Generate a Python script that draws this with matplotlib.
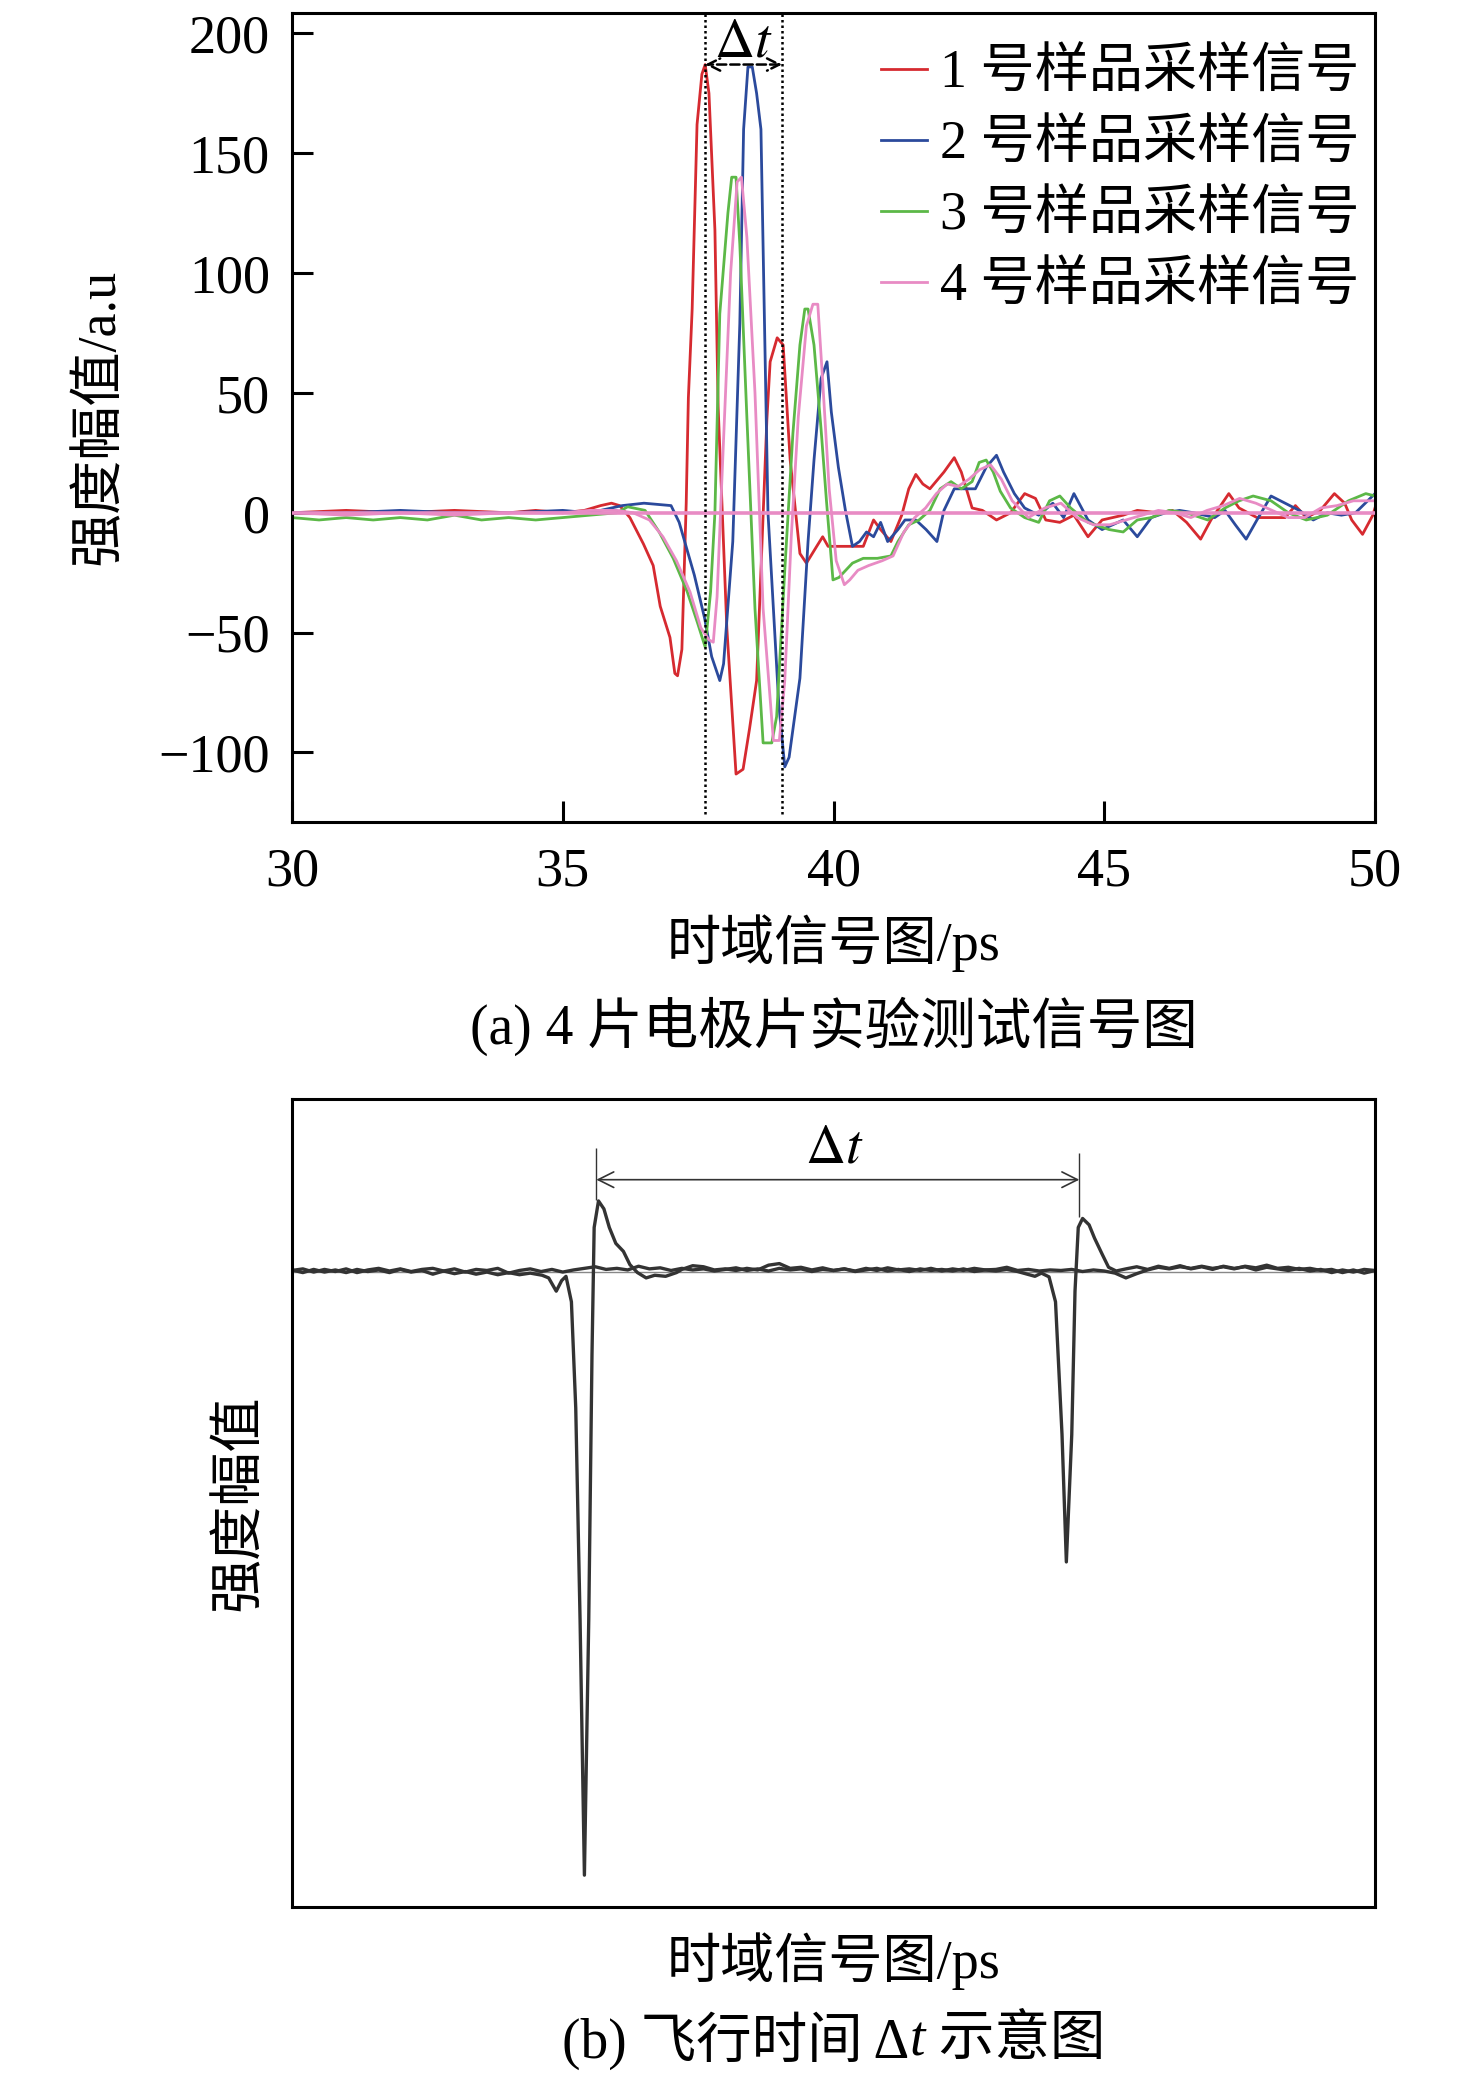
import matplotlib
matplotlib.use("Agg")
import matplotlib.pyplot as plt
import numpy as np

plt.rcParams.update({
    "font.family": ["Liberation Serif", "Noto Sans CJK SC"],
    "mathtext.fontset": "stix",
    "font.size": 39,
    "axes.linewidth": 2.2,
})

# ---- panel (a): four sample signals (time in ps, amplitude in a.u.) ----
red_t = [30, 31, 32, 33, 34, 34.5, 35, 35.4, 35.7, 35.9,
         36.05, 36.24, 36.49, 36.67, 36.8, 36.98, 37.07, 37.12, 37.2, 37.28,
         37.32, 37.39, 37.48, 37.57, 37.63, 37.7, 37.81, 37.87, 38.03, 38.2,
         38.33, 38.45, 38.58, 38.77, 38.83, 38.96, 39.07, 39.2, 39.38, 39.5,
         39.69, 39.8, 39.9, 40.16, 40.55, 40.74, 40.87, 41.06, 41.26, 41.39,
         41.52, 41.65, 41.78, 42.04, 42.23, 42.36, 42.56, 42.75, 43.01, 43.27,
         43.53, 43.73, 43.92, 44.18, 44.44, 44.7, 44.96, 45.35, 45.61, 46.0,
         46.26, 46.52, 46.78, 46.97, 47.3, 47.49, 47.82, 48.08, 48.34, 48.53,
         48.73, 48.99, 49.25, 49.44, 49.57, 49.77, 49.96, 50]
red_v = [0, 1, 0, 1, 0, 1, 0, 1, 3, 4,
         3, -2, -13, -22, -39, -52, -67, -68, -57, 4,
         48, 85, 162, 183, 187, 175, 118, 44, -48, -109,
         -107, -90, -70, 39, 63, 73, 70, 22, -17, -21,
         -14, -10, -14, -14, -14, -3, -7, -12, -1, 10,
         16, 12, 10, 17, 23, 17, 2, 1, -3, 0,
         8, 6, -3, -4, -1, -10, -3, -1, 1, 0,
         1, -4, -11, -3, 8, 2, -2, -2, -2, 3,
         -2, 1, 8, 4, -3, -9, -1, 2]

blue_t = [30, 31, 32, 33, 34, 35, 35.5, 36.1, 36.5, 37.0,
          37.15, 37.43, 37.62, 37.75, 37.9, 37.97, 38.14, 38.27, 38.34, 38.42,
          38.5, 38.58, 38.66, 38.79, 38.99, 39.1, 39.18, 39.38, 39.53, 39.64,
          39.77, 39.88, 39.96, 40.09, 40.22, 40.35, 40.48, 40.61, 40.74, 40.87,
          41.0, 41.19, 41.32, 41.52, 41.71, 41.91, 42.04, 42.23, 42.43, 42.62,
          42.82, 43.01, 43.14, 43.34, 43.53, 43.79, 44.05, 44.25, 44.44, 44.7,
          44.96, 45.35, 45.61, 45.87, 46.13, 46.39, 46.65, 47.04, 47.23, 47.42,
          47.62, 47.82, 48.08, 48.34, 48.6, 48.86, 49.12, 49.38, 49.64, 50]
blue_v = [0, 0, 1, 0, 0, 1, 0, 3, 4, 3,
          -4, -26, -44, -60, -70, -63, -12, 79, 160, 186,
          186, 175, 160, 0, -80, -106, -102, -69, -12, 22,
          56, 63, 42, 19, 1, -14, -12, -8, -10, -4,
          -12, -7, -3, -3, -7, -12, 1, 10, 10, 10,
          19, 24, 17, 8, 2, -1, 4, -2, 8, -3,
          -7, -3, -10, -2, 0, 1, 0, -2, 1, -5,
          -11, -3, 7, 4, 1, -3, 0, -1, 0, 8]

green_t = [30, 30.5, 31, 31.5, 32, 32.5, 33, 33.5, 34, 34.5,
           35, 35.5, 36.0, 36.2, 36.52, 36.78, 37.04, 37.3, 37.49, 37.63,
           37.73, 37.81, 37.9, 38.05, 38.12, 38.2, 38.27, 38.4, 38.55, 38.7,
           38.86, 38.95, 39.1, 39.25, 39.38, 39.47, 39.53, 39.64, 39.77, 39.87,
           39.99, 40.1, 40.35, 40.55, 40.81, 41.06, 41.19, 41.39, 41.58, 41.78,
           41.97, 42.17, 42.36, 42.56, 42.69, 42.82, 42.95, 43.08, 43.27, 43.53,
           43.79, 43.99, 44.18, 44.38, 44.7, 45.09, 45.35, 45.61, 45.87, 46.2,
           46.52, 46.91, 47.23, 47.49, 47.75, 48.08, 48.4, 48.73, 49.12, 49.51,
           49.83, 50]
green_v = [-2, -3, -2, -3, -2, -3, -1, -3, -2, -3,
           -2, -1, 0, 2.5, 1, -8, -19, -33, -46, -56,
           -33, 0, 83, 125, 140, 140, 112, 40, -40, -96,
           -96, -85, -24, 33, 70, 85, 85, 70, 35, 5,
           -28, -27, -21, -19, -19, -18, -12, -5, -3, 1,
           10, 13, 10, 13, 21, 22, 17, 9, 2, -2,
           -4, 5, 7, 2, -4, -7, -8, -3, -2, 1,
           0, -3, 2, 5, 7, 5, 0, -3, -1, 5,
           8, 7]

pink_t = [30, 31, 32, 33, 34, 35, 35.5, 36.0, 36.3, 36.6,
          36.85, 37.1, 37.35, 37.55, 37.7, 37.78, 37.85, 37.95, 38.1, 38.22,
          38.3, 38.4, 38.55, 38.7, 38.89, 39.0, 39.1, 39.22, 39.35, 39.5,
          39.62, 39.71, 39.8, 39.92, 40.05, 40.2, 40.3, 40.45, 40.65, 40.9,
          41.1, 41.3, 41.5, 41.7, 41.9, 42.1, 42.3, 42.5, 42.7, 42.9,
          43.1, 43.3, 43.6, 43.9, 44.2, 44.5, 44.8, 45.1, 45.4, 45.7,
          46.0, 46.3, 46.6, 46.9, 47.2, 47.5, 47.8, 48.1, 48.4, 48.7,
          49.0, 49.3, 49.6, 50]
pink_v = [0, -1, 0, -1, 0, 0, 1, 1, 0, -3,
          -10, -20, -33, -48, -53, -54, -35, 20, 100, 138,
          140, 115, 50, -40, -95, -95, -70, -10, 40, 78,
          87, 87, 55, 10, -20, -30, -28, -24, -22, -20,
          -18, -8, -2, 2, 8, 12, 11, 14, 18, 20,
          14, 5, -2, 2, 4, -2, -5, -5, -3, -1,
          1, 0, -2, 1, 3, 6, 4, 1, -2, -2,
          2, 3, 5, 5]

labels_a = ["1 号样品采样信号", "2 号样品采样信号", "3 号样品采样信号", "4 号样品采样信号"]
colors_a = ["#d62a30", "#2b4a9c", "#5cb847", "#e88bc4"]
dt_marks = [37.63, 39.05]
x_ticks = [30, 35, 40, 45, 50]
y_ticks = [-100, -50, 0, 50, 100, 150, 200]

# ---- panel (b): schematic time-of-flight signal (arbitrary units) ----
left_grid_a = np.arange(0, 23, 1.0)
ripple_a_left = [0.3, -0.2, 0.4, -0.1, 0.3, -0.2, 0.4, 0.0, 0.3, -0.2,
                 0.4, -0.1, 0.2, -0.5, 0.1, -0.4, 0.0, -0.5, -0.1, -0.6,
                 -0.2, -0.6, -0.3]
pulse_a_t = [23.1, 23.7, 24.4, 24.9, 25.3, 25.8, 26.2, 26.6, 27.0, 27.4,
             27.7, 27.9, 28.3, 28.8, 29.3, 29.9, 30.6, 31.2, 31.9, 32.7,
             33.5, 34.5, 35.5]
pulse_a_v = [-0.7, -1.2, -3.7, -1.7, -0.9, -5.7, -25.7, -65.7, -113.7, -65.7,
             -15.7, 8.3, 13.3, 11.8, 8.3, 5.3, 3.8, 1.3, -0.2, -1.2,
             -0.7, -0.9, -0.2]
right_grid_a = np.arange(36, 101, 1.0)
ripple_a_right = [0.4, 1.1, 0.9, 0.3, 0.5, 0.2, 0.6, 0.3, 1.2, 1.5,
                  0.6, 0.8, 0.3, 0.7, 0.2, 0.5, 0.1, 0.6, 0.2, 0.7,
                  0.3, 0.5, 0.2, 0.6, 0.1, 0.5, 0.2, 0.6, 0.3, 0.4,
                  0.8, 0.2, 0.4, 0.1, 0.3, 0.2, 0.4, 0.0, 0.3, 0.1,
                  -0.3, -1.2, -0.4, 0.3, 0.8, 0.5, 0.9, 0.6, 1.0, 0.6,
                  0.9, 0.5, 1.0, 0.7, 1.2, 0.6, 0.8, 0.4, 0.6, 0.2,
                  0.4, -0.2, 0.3, -0.3, 0.2]

left_grid_b = np.arange(0, 68, 1.0)
ripple_b_left = [0.2, 0.5, -0.1, 0.4, 0.0, 0.5, -0.2, 0.3, 0.6, 0.1,
                 0.5, 0.0, 0.4, 0.6, 0.1, 0.5, -0.1, 0.4, 0.2, 0.6,
                 -0.3, 0.2, 0.5, 0.0, 0.4, -0.1, 0.3, 0.6, 0.9, 0.4,
                 0.6, 0.3, 1.0, 0.5, 0.7, 0.2, 0.6, 0.3, 0.5, 0.1,
                 0.4, 0.7, 0.2, 0.5, 0.1, 0.6, 0.3, 0.5, 0.0, 0.4,
                 0.2, 0.5, 0.0, 0.3, 0.6, 0.1, 0.4, 0.0, 0.5, 0.2,
                 0.4, 0.1, 0.5, 0.0, 0.3, 0.1, 0.4, 0.0]
pulse_b_t = [68.6, 69.2, 69.9, 70.5, 71.1, 71.5, 72.0, 72.3, 72.6, 73.0,
             73.6, 74.1, 74.8, 75.4, 76.1]
pulse_b_v = [-0.9, -0.3, -1.0, -5.7, -30.7, -54.7, -30.7, -3.7, 8.3, 10.0,
             8.8, 6.3, 3.3, 0.8, 0.1]
right_grid_b = np.arange(77, 101, 1.0)
ripple_b_right = [0.5, 0.9, 0.4, 1.0, 0.6, 1.1, 0.5, 0.9, 0.4, 1.0,
                  0.6, 0.9, 0.3, 0.8, 0.5, 0.2, 0.6, 0.1, 0.4, -0.2,
                  0.3, -0.1, 0.4, 0.2]
tof_marks = [28.1, 72.7]

trace_a_t = np.concatenate([left_grid_a, pulse_a_t, right_grid_a])
trace_a_v = np.concatenate([ripple_a_left, pulse_a_v, ripple_a_right])
trace_b_t = np.concatenate([left_grid_b, pulse_b_t, right_grid_b])
trace_b_v = np.concatenate([ripple_b_left, pulse_b_v, ripple_b_right])

W, H = 1476, 2087
fig = plt.figure(figsize=(W / 100, H / 100), dpi=100)


def fx(px):
    return px / W


def fy(py):
    return 1 - py / H


# ---------------- panel (a) ----------------
ax1 = fig.add_axes([fx(292), fy(822), 1083 / W, 809 / H])
series = [(red_t, red_v), (blue_t, blue_v), (green_t, green_v), (pink_t, pink_v)]
for (t, v), c, lab in zip(series, colors_a, labels_a):
    ax1.plot(t, v, color=c, lw=2.0, label=lab)
ax1.axhline(0, color=colors_a[3], lw=2.6, zorder=5)

for xm in dt_marks:
    ax1.axvline(xm, ymin=0.01, ymax=1, color="black", ls=(0, (1, 1.2)), lw=1.8, zorder=6)
ax1.annotate("", xy=(dt_marks[0], 187), xytext=(dt_marks[1], 187),
             arrowprops=dict(arrowstyle="<->", color="black", lw=1.8,
                             ls="--", mutation_scale=22, shrinkA=0, shrinkB=0),
             zorder=7)
ax1.text(sum(dt_marks) / 2, 196, r"$\Delta t$", ha="center", va="center", fontsize=40)

ax1.set_xlim(30, 50)
ax1.set_ylim(-129, 208.5)
ax1.set_xticks(x_ticks)
ax1.set_yticks(y_ticks)
ax1.set_yticklabels([str(v).replace("-", "\u2212") for v in y_ticks])
ax1.tick_params(direction="in", length=15, width=2.2, labelsize=39, pad=16)
ax1.tick_params(axis="x", pad=18)

ax1.legend(loc="upper right", bbox_to_anchor=(1.016, 0.995), frameon=False,
           fontsize=39, handlelength=0.85, handletextpad=0.25,
           labelspacing=0.38, borderaxespad=0.5, borderpad=0.1)

fig.text(fx(100), fy(417), "强度幅值/a.u", rotation=90, ha="center", va="center", fontsize=39)
fig.text(fx(834), fy(943), "时域信号图/ps", ha="center", va="center", fontsize=39)
fig.text(fx(834), fy(1026), "(a) 4 片电极片实验测试信号图", ha="center", va="center", fontsize=40)

# ---------------- panel (b) ----------------
ax2 = fig.add_axes([fx(292), fy(1907), 1083 / W, 808 / H])
ax2.axhline(0, color="#888888", lw=1.0)
ax2.plot(trace_a_t, trace_a_v, color="#333333", lw=2.4)
ax2.plot(trace_b_t, trace_b_v, color="#333333", lw=2.4)
ax2.vlines(tof_marks[0], 13.5, 23.3, color="#333333", lw=1.0)
ax2.vlines(tof_marks[1], 10.2, 22.3, color="#333333", lw=1.0)
ax2.annotate("", xy=(tof_marks[0], 17.3), xytext=(tof_marks[1], 17.3),
             arrowprops=dict(arrowstyle="<->", color="#333333", lw=1.2,
                             mutation_scale=28, shrinkA=0, shrinkB=0))
ax2.text(sum(tof_marks) / 2 - 0.3, 23.2, r"$\Delta t$", ha="center", va="center", fontsize=40)
ax2.set_xlim(0, 100)
ax2.set_ylim(-119.7, 32.5)
ax2.set_xticks([])
ax2.set_yticks([])

fig.text(fx(240), fy(1503), "强度幅值", rotation=90, ha="center", va="center", fontsize=39)
fig.text(fx(834), fy(1961), "时域信号图/ps", ha="center", va="center", fontsize=39)

# caption (b) with an italic t, assembled from three pieces
parts = [("(b) 飞行时间 Δ", "normal"), ("t", "italic"), (" 示意图", "normal")]
pieces = [fig.text(0, fy(2041), s, style=st, ha="left", va="center", fontsize=40)
          for s, st in parts]
fig.canvas.draw()
rend = fig.canvas.get_renderer()
widths = [p.get_window_extent(rend).width for p in pieces]
x0 = 834 - sum(widths) / 2
for p, w in zip(pieces, widths):
    p.set_x(fx(x0))
    x0 += w

fig.savefig("out.png", dpi=100, facecolor="white")
